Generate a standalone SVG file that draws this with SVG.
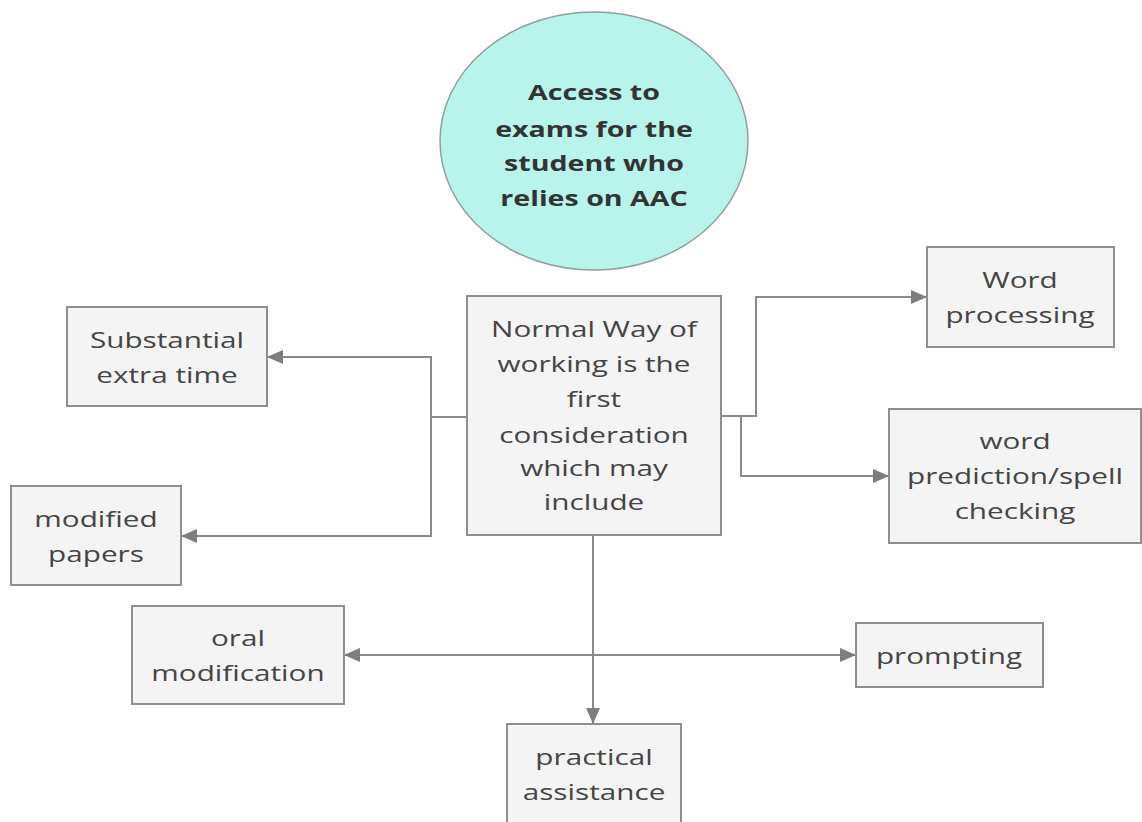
<svg xmlns="http://www.w3.org/2000/svg" width="1142" height="822" viewBox="0 0 1142 822">
  <style>
    .box { fill: #f4f4f4; stroke: #8f8f8f; stroke-width: 2; }
    .lbl { font-family: "Open Sans", "Noto Sans", sans-serif; font-size: 22px; fill: #454545; text-anchor: middle; }
    .title { font-family: "Open Sans", "Noto Sans", sans-serif; font-size: 22px; font-weight: bold; fill: #333333; text-anchor: middle; }
    .wire { fill: none; stroke: #8a8a8a; stroke-width: 2; }
  </style>
  <defs>
    <marker id="arrow" viewBox="0 0 16 14" refX="16" refY="7" markerWidth="16" markerHeight="14" markerUnits="userSpaceOnUse" orient="auto-start-reverse">
      <path d="M0,0 L16,7 L0,14 Z" fill="#7d7d7d"/>
    </marker>
  </defs>
  <rect width="1142" height="822" fill="#ffffff"/>

  <!-- connectors -->
  <g id="connectors">
    <!-- left branch -->
    <path class="wire" d="M467,417 H431"/>
    <path class="wire" d="M431,417 V357 H267" marker-end="url(#arrow)"/>
    <path class="wire" d="M431,417 V536 H181" marker-end="url(#arrow)"/>
    <!-- right branch -->
    <path class="wire" d="M721,416 H756 V297 H927" marker-end="url(#arrow)"/>
    <path class="wire" d="M741,416 V476 H889" marker-end="url(#arrow)"/>
    <!-- down to practical assistance -->
    <path class="wire" d="M593,535 V724" stroke-width="3" marker-end="url(#arrow)"/>
    <!-- oral modification / prompting -->
    <path class="wire" d="M344,655 H856" marker-start="url(#arrow)" marker-end="url(#arrow)"/>
  </g>

  <!-- labels use a wide set: each line is stretched horizontally about its centre -->
  <g id="node-access">
    <ellipse cx="594" cy="141" rx="154" ry="129" fill="#b8f4ec" stroke="#8f9f9c" stroke-width="1.5"/>
    <text class="title" transform="translate(594 100) scale(1.3 1)">Access to</text>
    <text class="title" transform="translate(594 137) scale(1.3 1)">exams for the</text>
    <text class="title" transform="translate(594 171) scale(1.3 1)">student who</text>
    <text class="title" transform="translate(594 206) scale(1.3 1)">relies on AAC</text>
  </g>

  <g id="node-normal">
    <rect class="box" x="467" y="296" width="254" height="239"/>
    <text class="lbl" transform="translate(594 337) scale(1.35 1)">Normal Way of</text>
    <text class="lbl" transform="translate(594 372) scale(1.35 1)">working is the</text>
    <text class="lbl" transform="translate(594 407) scale(1.35 1)">first</text>
    <text class="lbl" transform="translate(594 443) scale(1.35 1)">consideration</text>
    <text class="lbl" transform="translate(594 476) scale(1.35 1)">which may</text>
    <text class="lbl" transform="translate(594 510) scale(1.35 1)">include</text>
  </g>

  <g id="node-extra-time">
    <rect class="box" x="67" y="307" width="200" height="99"/>
    <text class="lbl" transform="translate(167 348) scale(1.35 1)">Substantial</text>
    <text class="lbl" transform="translate(167 383) scale(1.35 1)">extra time</text>
  </g>

  <g id="node-modified-papers">
    <rect class="box" x="11" y="486" width="170" height="99"/>
    <text class="lbl" transform="translate(96 527) scale(1.35 1)">modified</text>
    <text class="lbl" transform="translate(96 562) scale(1.35 1)">papers</text>
  </g>

  <g id="node-word-processing">
    <rect class="box" x="927" y="247" width="187" height="100"/>
    <text class="lbl" transform="translate(1020 288) scale(1.35 1)">Word</text>
    <text class="lbl" transform="translate(1020 323) scale(1.35 1)">processing</text>
  </g>

  <g id="node-word-prediction">
    <rect class="box" x="889" y="409" width="252" height="134"/>
    <text class="lbl" transform="translate(1015 449) scale(1.35 1)">word</text>
    <text class="lbl" transform="translate(1015 484) scale(1.35 1)">prediction/spell</text>
    <text class="lbl" transform="translate(1015 519) scale(1.35 1)">checking</text>
  </g>

  <g id="node-oral-modification">
    <rect class="box" x="132" y="606" width="212" height="98"/>
    <text class="lbl" transform="translate(238 646) scale(1.35 1)">oral</text>
    <text class="lbl" transform="translate(238 681) scale(1.35 1)">modification</text>
  </g>

  <g id="node-prompting">
    <rect class="box" x="856" y="623" width="187" height="64"/>
    <text class="lbl" transform="translate(949 664) scale(1.35 1)">prompting</text>
  </g>

  <g id="node-practical-assistance">
    <rect class="box" x="507" y="724" width="174" height="110"/>
    <text class="lbl" transform="translate(594 765) scale(1.35 1)">practical</text>
    <text class="lbl" transform="translate(594 800) scale(1.35 1)">assistance</text>
  </g>
</svg>
